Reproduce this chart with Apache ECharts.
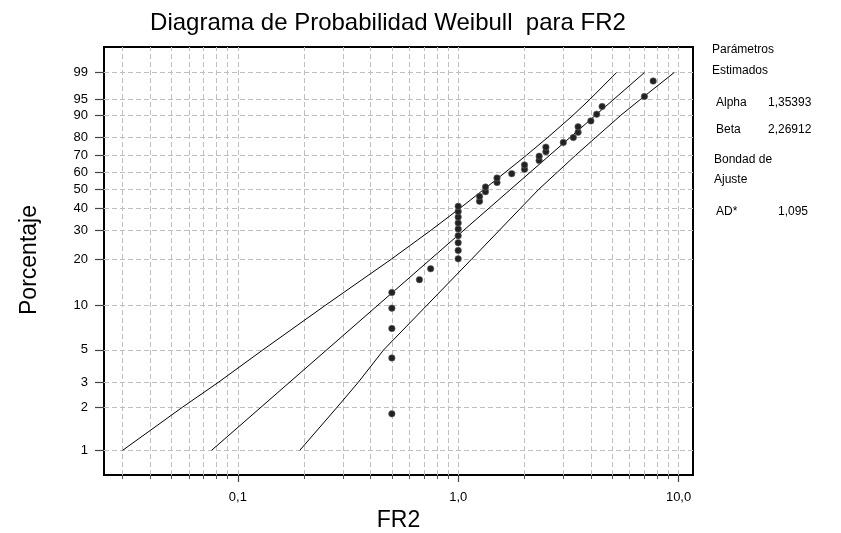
<!DOCTYPE html>
<html><head><meta charset="utf-8">
<script src="https://cdn.jsdelivr.net/npm/echarts@6/dist/echarts.min.js"></script>
<style>html,body{margin:0;padding:0;background:#fff}#c{width:841px;height:533px}</style>
</head><body><div id="c"></div>
<script>
const FONT = 'Liberation Sans, Arial, sans-serif';

// observed FR2 values (sorted) and their plotted percentages
const fr2Values = [0.5,0.5,0.5,0.5,0.5,0.667,0.75,1,1,1,1,1,1,1,1,1,1.25,1.25,1.33,1.33,1.5,1.5,1.75,2,2,2.33,2.33,2.5,2.5,3,3.33,3.5,3.5,4,4.25,4.5,7,7.67];
const fr2Percent = [1.8,4.4,7.0,9.6,12.2,14.8,17.4,20.1,22.7,25.3,27.9,30.5,33.1,35.7,38.3,40.9,43.5,46.1,48.7,51.3,53.9,56.5,59.1,61.7,64.3,66.9,69.5,72.1,74.7,77.3,79.9,82.6,85.2,87.8,90.4,93.0,95.6,98.2];

// fitted Weibull line
const fitX = [0.076, 7.0];
const fitPercent = [1, 99];

// confidence band (left / upper)
const upperX = [0.030, 0.056, 0.082, 0.130, 0.249, 0.497, 0.752, 1.02, 1.31, 1.64, 2.04, 2.55, 3.32, 3.97, 5.23];
const upperPercent = [1, 2, 3, 5, 10, 20, 30, 40, 50, 60, 70, 80, 90, 95, 99];

// confidence band (right / lower)
const lowerX = [0.191, 0.282, 0.353, 0.459, 0.72, 1.15, 1.92, 2.32, 2.82, 3.41, 4.21, 5.47, 6.74, 9.55];
const lowerPercent = [1, 2, 3, 5, 10, 20, 40, 50, 60, 70, 80, 90, 95, 99];

// axes
const yTickPercent = [1, 2, 3, 5, 10, 20, 30, 40, 50, 60, 70, 80, 90, 95, 99];
const xMajorTicks = [0.1, 1, 10];
const xMajorLabels = ['0,1', '1,0', '10,0'];
const xMinorTicks = [0.03,0.04,0.05,0.06,0.07,0.08,0.09,0.1,0.2,0.3,0.4,0.5,0.6,0.7,0.8,0.9,1,2,3,4,5,6,7,8,9,10];

// side panel
const panelRows = [
  ['Parámetros', ''], ['Estimados', ''],
  ['Alpha', '1,35393'], ['Beta', '2,26912'],
  ['Bondad de', ''], ['Ajuste', ''],
  ['AD*', '1,095']
];

const wz = p => Math.log(-Math.log(1 - p / 100));
const yTickZ = yTickPercent.map(wz);
const pair = (xs, ps) => xs.map((x, i) => [x, wz(ps[i])]);

const X_MIN = 0.0247, X_MAX = 11.63, Z_MIN = -5.0, Z_MAX = 1.942;

const gridLines = xMinorTicks.map(v => ({ xAxis: v })).concat(yTickZ.map(z => ({ yAxis: z })));

const chart = echarts.init(document.getElementById('c'), null, { renderer: 'canvas' });

const panelY = [50, 71, 103, 130, 160, 180, 212];
const panelX = [712, 712, 716, 716, 714, 714, 716];
const panelVX = [0, 0, 768, 768, 0, 0, 778];
const graphics = [];
panelRows.forEach((r, i) => {
  graphics.push({ type: 'text', x: panelX[i], y: panelY[i], style: { text: r[0], font: '12px ' + FONT, fill: '#000', verticalAlign: 'middle' } });
  if (r[1]) graphics.push({ type: 'text', x: panelVX[i], y: panelY[i], style: { text: r[1], font: '12px ' + FONT, fill: '#000', verticalAlign: 'middle' } });
});
graphics.push({ type: 'text', x: 30, y: 260, rotation: Math.PI / 2, style: { text: 'Porcentaje', font: '23px ' + FONT, fill: '#000', align: 'center', verticalAlign: 'middle' } });

chart.setOption({
  animation: false,
  backgroundColor: '#fff',
  title: {
    text: 'Diagrama de Probabilidad Weibull  para FR2',
    left: 383, top: 6, textAlign: 'center',
    textStyle: { fontFamily: FONT, fontSize: 24, fontWeight: 'normal', color: '#000' }
  },
  graphic: graphics,
  grid: { left: 104, right: 148, top: 47, bottom: 58, outerBoundsMode: 'none', containLabel: false, show: true, borderColor: '#000', borderWidth: 2, backgroundColor: 'transparent' },
  xAxis: [
    {
      type: 'log', logBase: 10, min: X_MIN, max: X_MAX, position: 'bottom',
      axisLine: { show: true, onZero: false, lineStyle: { color: '#000', width: 2 } },
      axisTick: { show: true, customValues: xMinorTicks, length: 4, lineStyle: { color: '#555', width: 1 } },
      axisLabel: { show: false },
      splitLine: { show: false }, minorTick: { show: false }
    },
    {
      type: 'log', logBase: 10, min: X_MIN, max: X_MAX, position: 'bottom',
      axisLine: { show: false, onZero: false },
      axisTick: { show: true, customValues: xMajorTicks, length: 7, lineStyle: { color: '#444', width: 1.2 } },
      axisLabel: {
        show: true, customValues: xMajorTicks, margin: 16,
        fontFamily: FONT, fontSize: 13, color: '#000',
        formatter: v => { const i = xMajorTicks.findIndex(t => Math.abs(t - v) < 1e-9 * Math.max(1, t)); return i >= 0 ? xMajorLabels[i] : ''; }
      },
      splitLine: { show: false },
      name: 'FR2', nameLocation: 'middle', nameGap: 31,
      nameTextStyle: { fontFamily: FONT, fontSize: 23, color: '#000' }
    }
  ],
  yAxis: {
    type: 'value', min: Z_MIN, max: Z_MAX,
    axisLine: { show: true, onZero: false, lineStyle: { color: '#000', width: 2 } },
    axisTick: { show: true, customValues: yTickZ, length: 9, lineStyle: { color: '#444', width: 1.2 } },
    axisLabel: {
      show: true, customValues: yTickZ, margin: 16,
      fontFamily: FONT, fontSize: 13, color: '#000',
      formatter: v => { const i = yTickZ.findIndex(t => Math.abs(t - v) < 1e-6); return i >= 0 ? String(yTickPercent[i]) : ''; }
    },
    splitLine: { show: false }
  },
  series: [
    {
      name: 'Ajuste', type: 'line', xAxisIndex: 0, data: pair(fitX, fitPercent),
      showSymbol: false, symbol: 'none', lineStyle: { color: '#000', width: 1 }, z: 3, silent: true,
      markLine: {
        silent: true, symbol: ['none', 'none'], label: { show: false }, z: 1,
        lineStyle: { color: '#bfbfbf', type: [5, 3], width: 1 },
        emphasis: { disabled: true },
        data: gridLines
      }
    },
    {
      name: 'IC superior', type: 'line', xAxisIndex: 0, data: pair(upperX, upperPercent),
      showSymbol: false, symbol: 'none', lineStyle: { color: '#000', width: 1 }, z: 3, silent: true
    },
    {
      name: 'IC inferior', type: 'line', xAxisIndex: 0, data: pair(lowerX, lowerPercent),
      showSymbol: false, symbol: 'none', lineStyle: { color: '#000', width: 1 }, z: 3, silent: true
    },
    {
      name: 'FR2', type: 'scatter', xAxisIndex: 0, data: pair(fr2Values, fr2Percent),
      symbol: 'circle', symbolSize: 6.5, itemStyle: { color: '#222', borderColor: '#666', borderWidth: 0.6, opacity: 1 }, z: 4
    }
  ]
});
</script></body></html>
